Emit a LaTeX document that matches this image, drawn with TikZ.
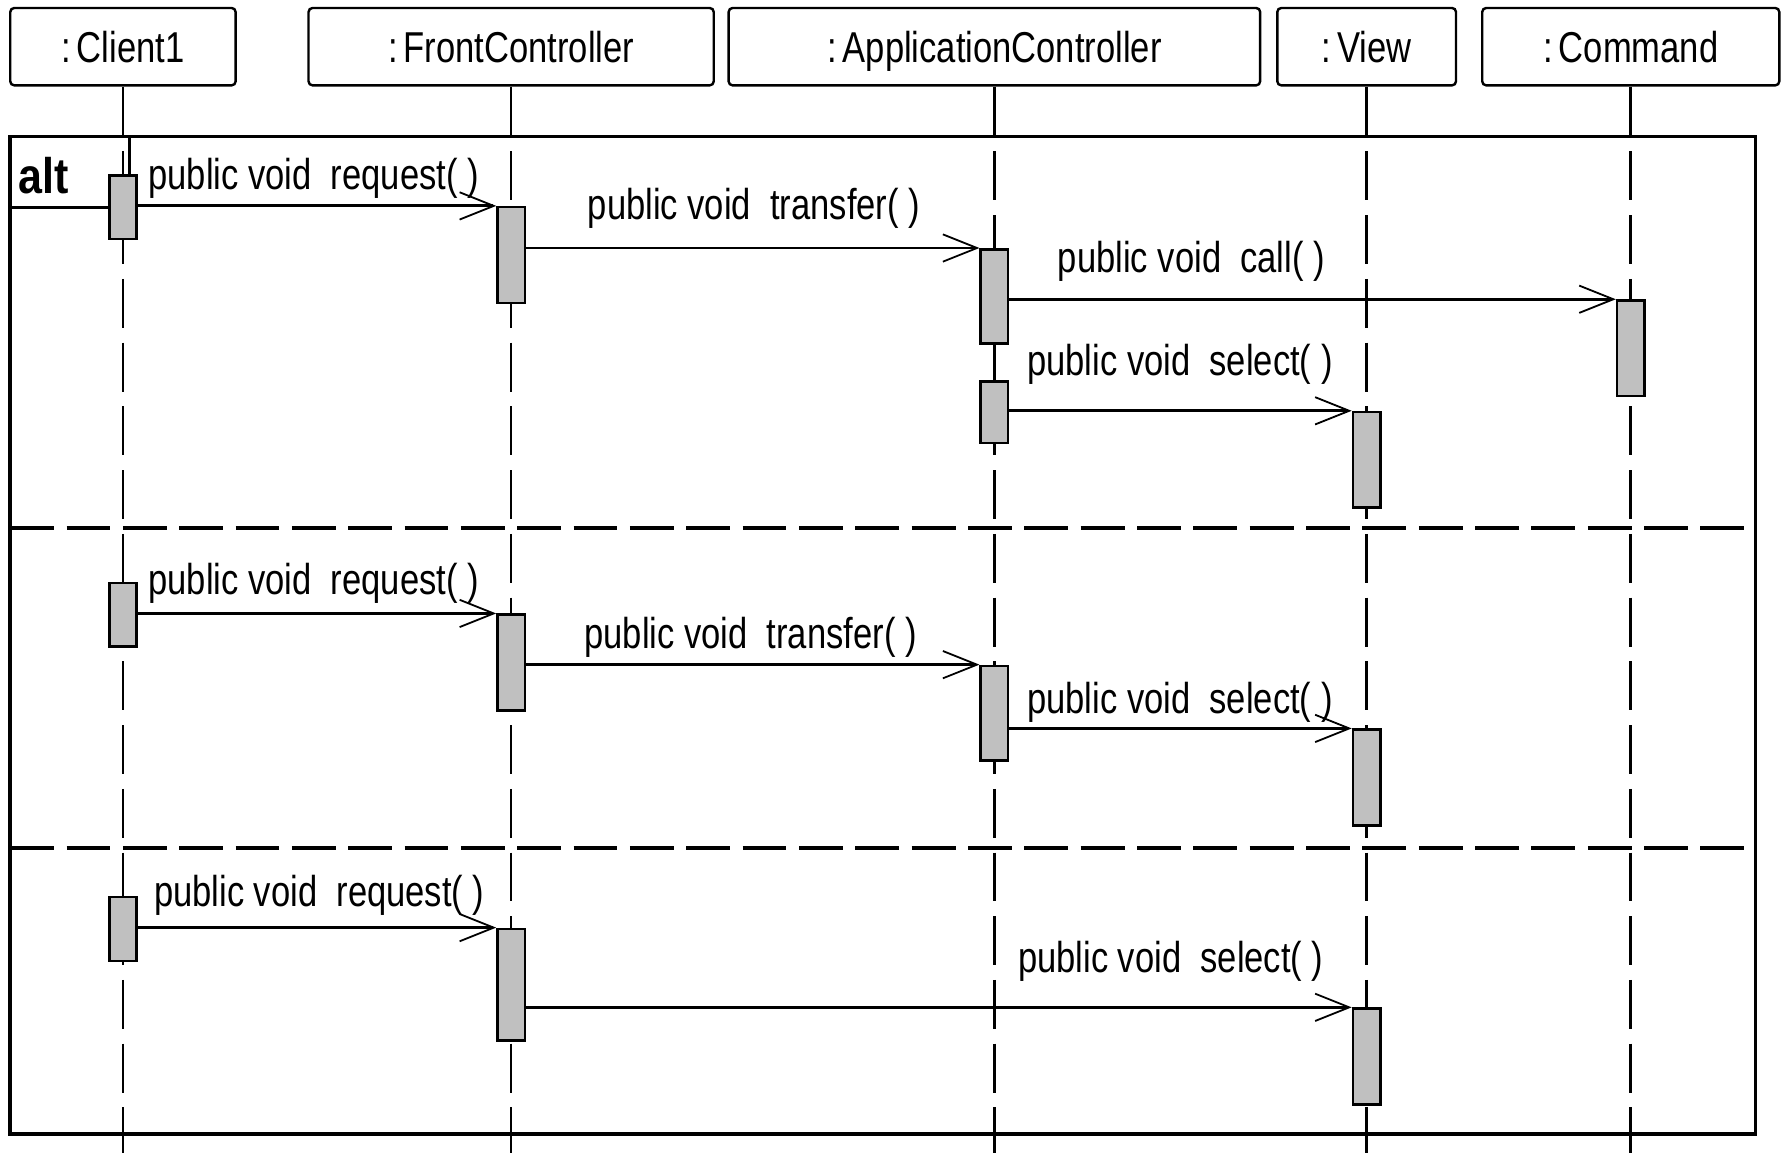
\documentclass[tikz,border=0pt]{standalone}
\usepackage{fontspec}
\setmainfont{Liberation Sans}[FakeStretch=0.8]
\newfontfamily\altfont{Liberation Sans}[FakeStretch=0.86]
\usetikzlibrary{arrows.meta}
\definecolor{actgray}{RGB}{192,192,192}
\newcommand{\txtfont}{\fontsize{21.6pt}{26pt}\selectfont}
\newcommand{\obj}[1]{:\hspace{0.14em}#1}
\begin{document}
\begin{tikzpicture}[x=0.02cm,y=-0.02cm,
  head/.style={draw, line width=1.2pt, rounded corners=2pt, minimum height=1.36cm,
               inner sep=0pt, text height=17pt, text depth=1pt, font=\txtfont},
  act/.style={draw, fill=actgray, line width=1.3pt, minimum width=0.48cm, inner sep=0pt},
  lifesolid/.style={line width=1.3pt},
  lifedash/.style={line width=1.3pt, dash pattern=on 0.86cm off 0.26cm},
  frameline/.style={line width=1.8pt},
  sepline/.style={line width=1.8pt, dash pattern=on 0.77cm off 0.22cm},
  msg/.style={line width=1.4pt, -{Straight Barb[length=0.6cm, width=0.48cm, line width=0.9pt]}},
  plain/.style={line width=1.4pt},
  lbl/.style={anchor=base west, inner sep=0pt, font=\txtfont}]
\useasboundingbox (0,0) rectangle (1568,1013);

% object heads
\node[head, minimum width=3.96cm] (cl) at (108,41)    {\obj{Client1}};
\node[head, minimum width=7.12cm] (fc) at (449,41)    {\obj{FrontController}};
\node[head, minimum width=9.34cm] (ac) at (873.5,41)  {\obj{ApplicationController}};
\node[head, minimum width=3.14cm] (vw) at (1200.5,41) {\obj{View}};
\node[head, minimum width=5.22cm] (cm) at (1432.5,41) {\obj{Command}};

% lifelines
\foreach \o in {cl,fc,ac,vw,cm}{
  \draw[lifesolid] (\o.south) -- (\o |- 0,120);
  \draw[lifedash] (\o |- 0,133) -- (\o |- 0,1013);
}
\draw[lifesolid] (114,120) -- (114,154);

% combined fragment
\draw[frameline] (9,120) rectangle (1542,996);
\draw[sepline] (9,464) -- (1542,464);
\draw[sepline] (9,745) -- (1542,745);
\node[anchor=base west, inner sep=0pt,
      font=\altfont\bfseries\fontsize{25pt}{29pt}\selectfont] (alt) at (16,170) {alt};

% activations, first operand
\node[act, minimum height=1.12cm] (c1) at (cl |- 0,182)   {};
\node[act, minimum height=1.68cm] (f1) at (fc |- 0,224)   {};
\node[act, minimum height=1.66cm] (a1) at (ac |- 0,260.5) {};
\node[act, minimum height=1.08cm] (a1b) at (ac |- 0,362)  {};
\node[act, minimum height=1.68cm] (m1) at (cm |- 0,306)   {};
\node[act, minimum height=1.68cm] (v1) at (vw |- 0,404)   {};
% second operand
\node[act, minimum height=1.12cm] (c2) at (cl |- 0,540)   {};
\node[act, minimum height=1.68cm] (f2) at (fc |- 0,582)   {};
\node[act, minimum height=1.66cm] (a2) at (ac |- 0,626.5) {};
\node[act, minimum height=1.68cm] (v2) at (vw |- 0,683)   {};
% third operand
\node[act, minimum height=1.12cm] (c3) at (cl |- 0,816)   {};
\node[act, minimum height=1.96cm] (f3) at (fc |- 0,865)   {};
\node[act, minimum height=1.68cm] (v3) at (vw |- 0,928)   {};

% messages
\coordinate (found) at (9,182);
\draw[plain] (found) -- (c1.west);
\draw[msg] (c1.east |- f1.north) -- (f1.north west);
\draw[msg] (f1.east |- a1.north) -- (a1.north west);
\draw[msg] (a1.east |- m1.north) -- (m1.north west);
\draw[msg] (a1b.east |- v1.north) -- (v1.north west);
\draw[msg] (c2.east |- f2.north) -- (f2.north west);
\draw[msg] (f2.east |- a2.north) -- (a2.north west);
\draw[msg] (a2.east |- v2.north) -- (v2.north west);
\draw[msg] (c3.east |- f3.north) -- (f3.north west);
\draw[msg] (f3.east |- v3.north) -- (v3.north west);

% message labels
\node[lbl] (l1)  at (130,166.5) {public void~~request(~)};
\node[lbl] (l2)  at (516,192.5) {public void~~transfer(~)};
\node[lbl] (l3)  at (929,239)   {public void~~call(~)};
\node[lbl] (l4)  at (902,329.5) {public void~~select(~)};
\node[lbl] (l5)  at (130,522.5) {public void~~request(~)};
\node[lbl] (l6)  at (513,569.5) {public void~~transfer(~)};
\node[lbl] (l7)  at (902,626.5) {public void~~select(~)};
\node[lbl] (l8)  at (135,796.5) {public void~~request(~)};
\node[lbl] (l9)  at (894,854.5) {public void~~select(~)};
\end{tikzpicture}
\end{document}
